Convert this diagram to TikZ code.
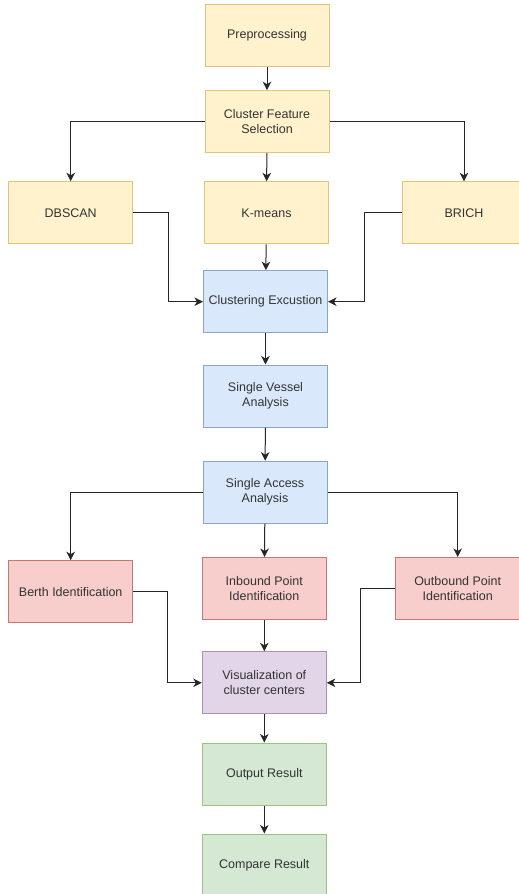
\documentclass[tikz,border=0pt]{standalone}
\usepackage{fontspec}
\setmainfont{Liberation Sans}
\usepackage{tikz}
\usetikzlibrary{positioning,calc,arrows.meta}
\definecolor{yelfill}{HTML}{FFF2CC}\definecolor{yeldraw}{HTML}{D6B656}
\definecolor{bluefill}{HTML}{DAE8FC}\definecolor{bluedraw}{HTML}{6C8EBF}
\definecolor{redfill}{HTML}{F8CECC}\definecolor{reddraw}{HTML}{B85450}
\definecolor{purfill}{HTML}{E1D5E7}\definecolor{purdraw}{HTML}{9673A6}
\definecolor{grnfill}{HTML}{D5E8D4}\definecolor{grndraw}{HTML}{82B366}
\definecolor{txtgray}{HTML}{333333}

\begin{document}
\begin{tikzpicture}[x=1pt,y=-1pt,
  box/.style={draw,line width=1pt,align=center,text=txtgray,
              font=\fontsize{12.5}{15}\selectfont,minimum width=124pt,minimum height=62pt,
              inner sep=2pt},
  yel/.style={box,draw=yeldraw!80,fill=yelfill},
  blu/.style={box,draw=bluedraw!80,fill=bluefill},
  rd/.style={box,draw=reddraw!80,fill=redfill},
  pur/.style={box,draw=purdraw!80,fill=purfill},
  grn/.style={box,draw=grndraw!80,fill=grnfill},
  arr/.style={-{Stealth[length=8.5pt,width=8.5pt,inset=2.5pt]},line width=1pt,color=black!85}]
  \clip (0,0) rectangle (519,894);
  \fill[white] (0,0) rectangle (519,894);
  \node[yel] (pre)    at (267,35.7)    {Preprocessing};
  \node[yel] (cfs)    at (267,121.7)   {Cluster Feature\\Selection};
  \node[yel] (dbscan) at (70.7,212.8)  {DBSCAN};
  \node[yel] (kmeans) at (266.5,212.8) {K-means};
  \node[yel] (brich)  at (464,212.8)   {BRICH};
  \node[blu] (clus)   at (265.5,301.7) {Clustering Excustion};
  \node[blu] (sva)    at (265.5,396)   {Single Vessel\\Analysis};
  \node[blu] (saa)    at (265,492.2)   {Single Access\\Analysis};
  \node[rd]  (berth)  at (70.7,591.7)  {Berth Identification};
  \node[rd]  (inb)    at (264.3,588.5) {Inbound Point\\Identification};
  \node[rd]  (outb)   at (457.7,588.5) {Outbound Point\\Identification};
  \node[pur] (vis)    at (264.3,682.8) {Visualization of\\cluster centers};
  \node[grn] (res)    at (264.3,774)   {Output Result};
  \node[grn] (cmp)    at (264.3,865)   {Compare Result};
  \draw[arr] (pre) -- (cfs);
  \draw[arr] (cfs.west) -| (dbscan.north);
  \draw[arr] (cfs) -- (kmeans);
  \draw[arr] (cfs.east) -| (brich.north);
  \draw[arr] (dbscan.east) -- ++(35,0) |- (clus.west);
  \draw[arr] (kmeans) -- (clus);
  \draw[arr] (brich.west) -- ++(-37,0) |- (clus.east);
  \draw[arr] (clus) -- (sva);
  \draw[arr] (sva) -- (saa);
  \draw[arr] (saa.west) -| (berth.north);
  \draw[arr] (saa) -- (inb);
  \draw[arr] (saa.east) -| (outb.north);
  \draw[arr] (berth.east) -- ++(34,0) |- (vis.west);
  \draw[arr] (inb) -- (vis);
  \draw[arr] (outb.west) -- ++(-35,0) |- (vis.east);
  \draw[arr] (vis) -- (res);
  \draw[arr] (res) -- (cmp);
\end{tikzpicture}
\end{document}
